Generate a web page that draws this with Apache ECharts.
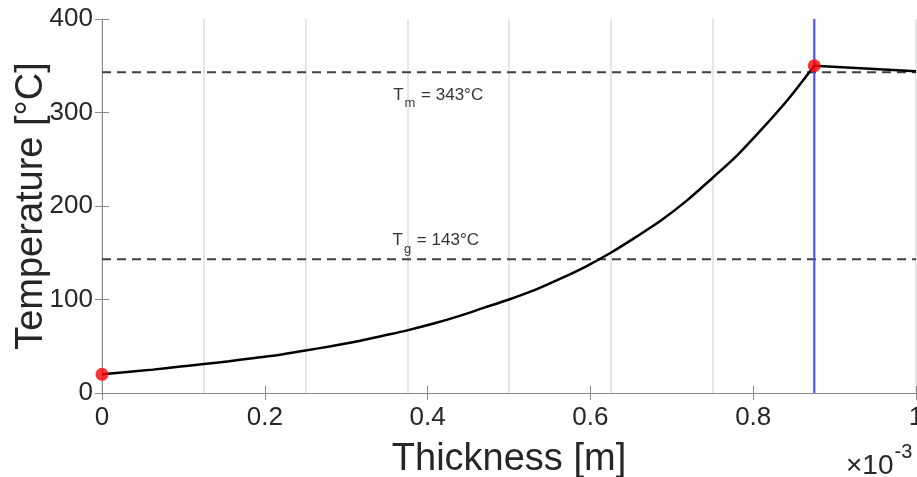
<!DOCTYPE html>
<html>
<head>
<meta charset="utf-8">
<script src="https://cdn.jsdelivr.net/npm/echarts@6/dist/echarts.min.js"></script>
<style>
html,body{margin:0;padding:0;background:#fff;}
#c{width:917px;height:477px;}
</style>
</head>
<body>
<div id="c"></div>
<script>
// Thickness in units of 1e-3 m
var thicknessInner = [0, 0.03125, 0.0625, 0.09375, 0.125, 0.15625, 0.1875, 0.21875, 0.25, 0.28125, 0.3125, 0.34375, 0.375, 0.40625, 0.4375, 0.46875, 0.5, 0.53125, 0.5625, 0.59375, 0.625, 0.65625, 0.6875, 0.71875, 0.75, 0.78125, 0.8125, 0.84375, 0.875];
var tempInner = [20, 22.5, 25, 28, 31, 34, 37.5, 41, 45.5, 50, 55, 61, 67, 74, 82, 91, 100, 110, 122, 135, 150, 167, 185, 206, 230, 255, 284, 315, 350];
var thicknessOuter = [0.875, 1.0];
var tempOuter = [350, 344];
var markerX = [0, 0.875];
var markerY = [20, 350];
var interfaceX = 0.875;
var Tm = 343;
var Tg = 143;
var annoX = [0.413, 0.41];
var annoY = [328, 172];
var annoSub = ['m', 'g'];
var annoValue = [343, 143];
var xTicks = [0, 0.2, 0.4, 0.6, 0.8, 1];
var yTicks = [0, 100, 200, 300, 400];

var FONT = '"Liberation Sans", Arial, Helvetica, sans-serif';
var AX = '#8a8a8a';
var TXT = '#262626';

function zip(a, b) { return a.map(function (v, i) { return [v, b[i]]; }); }

var chart = echarts.init(document.getElementById('c'));
var option = {
  backgroundColor: '#fff',
  animation: false,
  grid: { left: 102, right: 1, top: 19, bottom: 84, containLabel: false, outerBoundsMode: 'none' },
  xAxis: [
    {
      type: 'value', min: 0, max: 1, interval: 0.2, position: 'bottom',
      name: 'Thickness [m]', nameLocation: 'middle', nameGap: 48, nameMoveOverlap: false,
      nameTextStyle: { fontFamily: FONT, fontSize: 38, color: TXT },
      axisLine: { show: true, lineStyle: { color: AX, width: 1 } },
      axisTick: { show: true, inside: true, length: 7, lineStyle: { color: AX } },
      axisLabel: { fontFamily: FONT, fontSize: 26, color: TXT, margin: 12,
        formatter: function (v) { var r = Math.round(v * 10) / 10; return xTicks.indexOf(r) >= 0 ? String(r) : ''; } },
      splitLine: { show: false }
    },
    {
      type: 'value', min: 0, max: 1, interval: 0.2, position: 'top',
      axisLine: { show: true, lineStyle: { color: AX, width: 1 } },
      axisTick: { show: true, inside: true, length: 7, lineStyle: { color: AX } },
      axisLabel: { show: false }, splitLine: { show: false }
    },
    {
      type: 'value', min: 0, max: 1, interval: 0.125, position: 'bottom',
      axisLine: { show: false }, axisTick: { show: false }, axisLabel: { show: false },
      splitLine: { show: true, lineStyle: { color: '#dedede', width: 1.5 } }
    }
  ],
  yAxis: [
    {
      type: 'value', min: 0, max: 400, interval: 100, position: 'left',
      name: 'Temperature [°C]', nameLocation: 'middle', nameGap: 51, nameMoveOverlap: false,
      nameTextStyle: { fontFamily: FONT, fontSize: 38, color: TXT },
      axisLine: { show: true, lineStyle: { color: AX, width: 1 } },
      axisTick: { show: true, inside: true, length: 7, lineStyle: { color: AX } },
      axisLabel: { fontFamily: FONT, fontSize: 26, color: TXT, margin: 9 },
      splitLine: { show: false }
    },
    {
      type: 'value', min: 0, max: 400, interval: 100, position: 'right',
      axisLine: { show: true, lineStyle: { color: AX, width: 1 } },
      axisTick: { show: true, inside: true, length: 7, lineStyle: { color: AX } },
      axisLabel: { show: false }, splitLine: { show: false }
    }
  ],
  series: [
    {
      type: 'line', xAxisIndex: 0, yAxisIndex: 0, data: [[0, Tm], [1, Tm]],
      symbol: 'none', lineStyle: { color: '#404040', width: 2, type: [9, 6] }, z: 2
    },
    {
      type: 'line', xAxisIndex: 0, yAxisIndex: 0, data: [[0, Tg], [1, Tg]],
      symbol: 'none', lineStyle: { color: '#404040', width: 2, type: [9, 6] }, z: 2
    },
    {
      type: 'line', xAxisIndex: 0, yAxisIndex: 0, data: [[interfaceX, 0], [interfaceX, 400]],
      symbol: 'none', lineStyle: { color: '#4a4aff', width: 2 }, z: 2
    },
    {
      type: 'line', xAxisIndex: 0, yAxisIndex: 0, data: zip(thicknessInner, tempInner),
      symbol: 'none', smooth: 0.3, lineStyle: { color: '#000', width: 2.5 }, z: 3
    },
    {
      type: 'line', xAxisIndex: 0, yAxisIndex: 0, data: zip(thicknessOuter, tempOuter),
      symbol: 'none', lineStyle: { color: '#000', width: 2.5 }, z: 3
    },
    {
      type: 'scatter', xAxisIndex: 0, yAxisIndex: 0, data: zip(markerX, markerY),
      symbolSize: 13, itemStyle: { color: '#ff0000' }, z: 5
    },
    {
      type: 'scatter', xAxisIndex: 0, yAxisIndex: 0, symbolSize: 0,
      data: annoX.map(function (x, i) { return { value: [x, annoY[i]], sub: annoSub[i], v: annoValue[i] }; }),
      label: {
        show: true, position: 'inside', align: 'center', verticalAlign: 'top',
        formatter: function (p) { return '{t|T}{s|' + p.data.sub + '}{t| = ' + p.data.v + '°C}'; },
        rich: {
          t: { fontFamily: FONT, fontSize: 17, color: '#000', lineHeight: 18, verticalAlign: 'top' },
          s: { fontFamily: FONT, fontSize: 13, color: '#000', lineHeight: 14, padding: [11, 1, 0, 1], verticalAlign: 'top' }
        }
      }
    }
  ],
  graphic: [
    {
      type: 'text', left: 846, top: 442,
      style: {
        text: '{a|×10}{b|-3}',
        rich: {
          a: { fontFamily: FONT, fontSize: 28, fill: TXT, lineHeight: 38, verticalAlign: 'bottom' },
          b: { fontFamily: FONT, fontSize: 20, fill: TXT, lineHeight: 22, verticalAlign: 'top', padding: [0, 0, 0, 1] }
        }
      }
    }
  ]
};
chart.setOption(option);
</script>
</body>
</html>
